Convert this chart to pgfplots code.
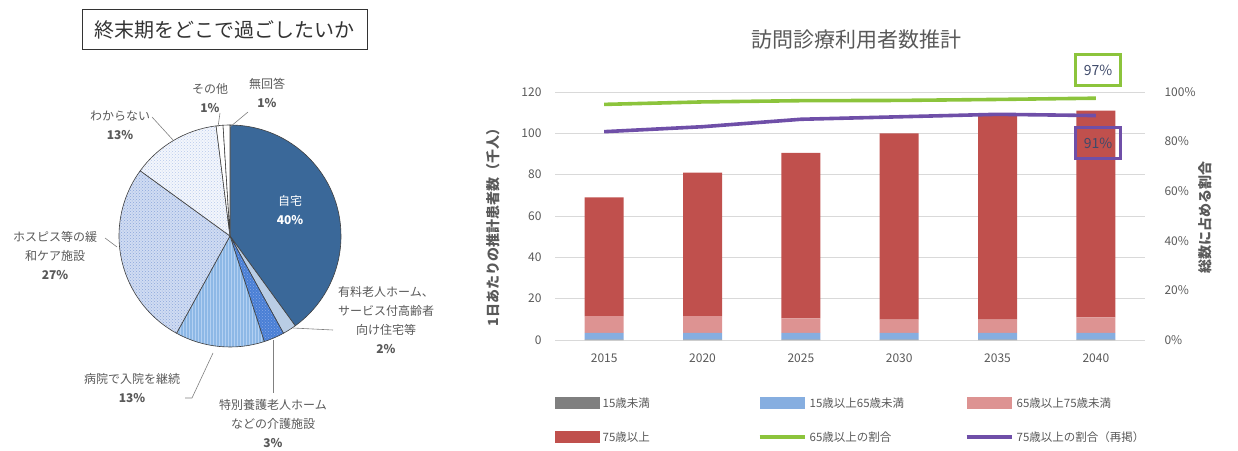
\documentclass[border=0pt]{standalone}
\usepackage{fontspec}
\setmainfont{Noto Sans CJK JP}
\usepackage{pgfplots}
\pgfplotsset{compat=1.18}
\usetikzlibrary{patterns}
\definecolor{txtgray}{HTML}{595959}
\definecolor{gridgray}{HTML}{D9D9D9}
\definecolor{pieA}{HTML}{3A6899}
\definecolor{pieB}{HTML}{B9CDE5}
\definecolor{pieC}{HTML}{4A7FD5}
\definecolor{pieCp}{HTML}{86A8E6}
\definecolor{pieD}{HTML}{8DB8E6}
\definecolor{pieDp}{HTML}{B3D0F2}
\definecolor{pieE}{HTML}{D0DCF2}
\definecolor{pieEp}{HTML}{8CA7DC}
\definecolor{pieF}{HTML}{F3F6FC}
\definecolor{pieFp}{HTML}{B8CAEC}
\definecolor{barGray}{HTML}{7F7F7F}
\definecolor{barBlue}{HTML}{86AEE0}
\definecolor{barPink}{HTML}{DD9392}
\definecolor{barRed}{HTML}{C0504D}
\definecolor{lnGreen}{HTML}{8CC43C}
\definecolor{lnPurple}{HTML}{6F4FA8}
\definecolor{boxTxt}{HTML}{3F4A6A}
\tikzset{
  s1/.style={fill=pieA},
  s2/.style={fill=pieB},
  s3/.style={preaction={fill=pieC},pattern=crosshatch dots,pattern color=pieCp},
  s4/.style={preaction={fill=pieD},pattern=vertical lines,pattern color=pieDp},
  s5/.style={preaction={fill=pieE},pattern=crosshatch dots,pattern color=pieEp},
  s6/.style={preaction={fill=pieF},pattern=crosshatch dots,pattern color=pieFp},
  s7/.style={fill=white},
  s8/.style={fill=white},
}
\begin{document}
\begin{tikzpicture}[x=1pt,y=1pt]
\useasboundingbox (0,0) rectangle (1238,450);

% ---------- pie chart ----------
\node[draw=black!80, line width=0.8pt, minimum width=285pt, minimum height=40pt,
  font=\fontsize{20}{20}\selectfont, text=black!80] at (224.5,420.5) {終末期をどこで過ごしたいか};

\xdef\angstart{90}
\foreach \v/\s in {40/s1,2/s2,3/s3,13/s4,27/s5,13/s6,1/s7,1/s8}{
  \pgfmathsetmacro\angend{\angstart-3.6*\v}
  \path[\s] (230pt,214pt) -- ++(\angstart:111pt) arc[start angle=\angstart, end angle=\angend, radius=111pt] -- cycle;
  \draw[black!75, line width=0.6pt] (230pt,214pt) -- ++(\angstart:111pt) arc[start angle=\angstart, end angle=\angend, radius=111pt] -- cycle;
  \xdef\angstart{\angend}
}

\begin{scope}[font=\fontsize{12}{19}\selectfont, text=txtgray, align=center]
\node[text=white] at (290,240) {自宅\\\textbf{40\%}};
\node at (386,130) {有料老人ホーム、\\サービス付高齢者\\向け住宅等\\\textbf{2\%}};
\node at (273,26) {特別養護老人ホーム\\などの介護施設\\\textbf{3\%}};
\node at (132,62) {病院で入院を継続\\\textbf{13\%}};
\node at (55,194) {ホスピス等の緩\\和ケア施設\\\textbf{27\%}};
\node at (120,325) {わからない\\\textbf{13\%}};
\node at (210,352) {その他\\\textbf{1\%}};
\node at (267,357) {無回答\\\textbf{1\%}};
\end{scope}
\begin{scope}[draw=black!50, line width=0.6pt]
\draw (293,122) -- (333,120);
\draw (273,110) -- (273,57);
\draw (213,97) -- (192,52) -- (185,52);
\draw (105,212) -- (117,203);
\draw (152,333) -- (173,310);
\draw (220,337) -- (218,323);
\draw (248,338) -- (230,323);
\end{scope}

% ---------- bar chart ----------
\node[font=\fontsize{21}{21}\selectfont, text=txtgray] at (856,410) {訪問診療利用者数推計};

\begin{axis}[
  at={(555pt,110pt)}, anchor=south west,
  scale only axis, width=590pt, height=248pt,
  ybar stacked, bar width=39pt,
  xmin=-0.5, xmax=5.5, ymin=0, ymax=120,
  xtick={0,1,2,3,4,5}, xticklabels={2015,2020,2025,2030,2035,2040},
  ytick={0,20,40,60,80,100,120},
  ymajorgrids, grid style={draw=gridgray, line width=0.8pt},
  axis line style={draw=none}, major tick length=0pt,
  tick label style={font=\fontsize{12}{12}\selectfont, text=txtgray},
  /pgf/number format/assume math mode=true,
  yticklabel style={xshift=-10pt},
  xticklabel style={yshift=-10pt},
  legend columns=3,
  legend cell align=left,
  legend style={draw=none, fill=none, at={(-0.006,-0.215)}, anchor=north west,
    font=\fontsize{11.5}{11.5}\selectfont, text=txtgray,
    nodes={text width=152pt, align=left, inner xsep=3pt},
    column sep=0pt, /tikz/every even column/.append style={column sep=0pt},
    row sep=19pt},
]
\addplot[fill=barGray, draw=none, legend image code/.code={\fill[barGray] (0pt,-6pt) rectangle (45pt,6pt);}]
  coordinates {(0,0.2) (1,0.2) (2,0.2) (3,0.2) (4,0.2) (5,0.2)};
\addlegendentry{15歳未満}
\addplot[fill=barBlue, draw=none, legend image code/.code={\fill[barBlue] (0pt,-6pt) rectangle (45pt,6pt);}]
  coordinates {(0,3.3) (1,3.3) (2,3.3) (3,3.3) (4,3.3) (5,3.3)};
\addlegendentry{15歳以上65歳未満}
\addplot[fill=barPink, draw=none, legend image code/.code={\fill[barPink] (0pt,-6pt) rectangle (45pt,6pt);}]
  coordinates {(0,8) (1,8) (2,7) (3,6.3) (4,6.3) (5,7.5)};
\addlegendentry{65歳以上75歳未満}
\addplot[fill=barRed, draw=none, legend image code/.code={\fill[barRed] (0pt,-6pt) rectangle (45pt,6pt);}]
  coordinates {(0,57.5) (1,69.5) (2,80) (3,90.2) (4,98.8) (5,100)};
\addlegendentry{75歳以上}
\addlegendimage{legend image code/.code={\draw[lnGreen, line width=4pt] (0pt,0pt) -- (45pt,0pt);}}
\addlegendentry{65歳以上の割合}
\addlegendimage{legend image code/.code={\draw[lnPurple, line width=4pt] (0pt,0pt) -- (45pt,0pt);}}
\addlegendentry{75歳以上の割合（再掲）}
\end{axis}

\begin{axis}[
  at={(555pt,110pt)}, anchor=south west,
  scale only axis, width=590pt, height=248pt,
  xmin=-0.5, xmax=5.5, ymin=0, ymax=100,
  axis x line=none, axis y line*=right,
  axis line style={draw=none}, major tick length=0pt,
  ytick={0,20,40,60,80,100},
  yticklabel={\pgfmathprintnumber{\tick}\%},
  yticklabel style={font=\fontsize{12}{12}\selectfont, text=txtgray, anchor=west, xshift=16pt},
  /pgf/number format/assume math mode=true,
]
\addplot[lnGreen, line width=3.6pt, mark=none] coordinates {(0,95) (1,96) (2,96.5) (3,96.6) (4,97) (5,97.5)};
\addplot[lnPurple, line width=3.6pt, mark=none] coordinates {(0,84) (1,86) (2,89) (3,90) (4,91) (5,90.5)};
\end{axis}

\node[draw=lnGreen, line width=2.8pt, minimum width=45pt, minimum height=31pt,
  font=\fontsize{14}{14}\selectfont, text=boxTxt] at (1098,380) {97\%};
\node[draw=lnPurple, line width=2.8pt, minimum width=45pt, minimum height=31pt,
  font=\fontsize{14}{14}\selectfont, text=boxTxt] at (1098,307) {91\%};

\node[rotate=90, font=\fontsize{14}{14}\selectfont\bfseries, text=txtgray] at (493,226) {1日あたりの推計患者数（千人）};
\node[rotate=90, font=\fontsize{14}{14}\selectfont\bfseries, text=txtgray] at (1205,232) {総数に占める割合};
\end{tikzpicture}
\end{document}
